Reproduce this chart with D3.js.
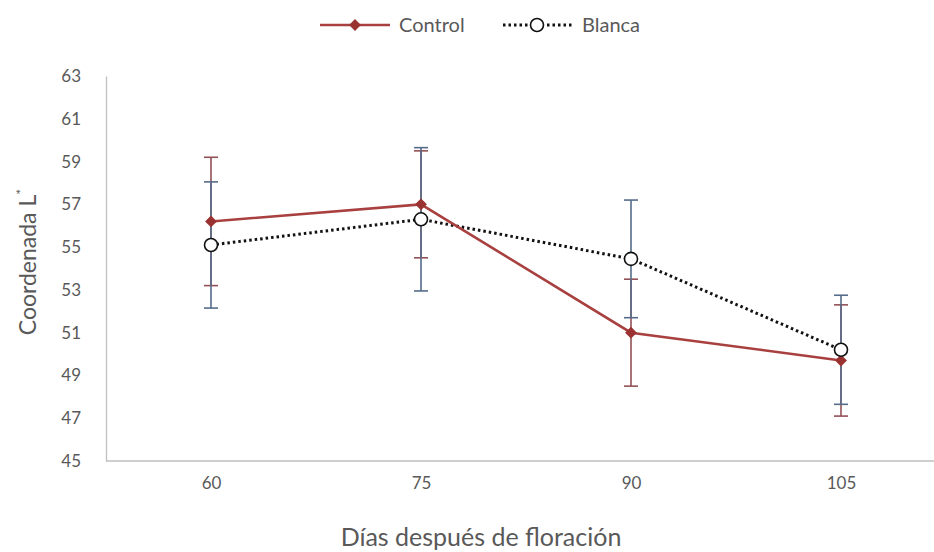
<!DOCTYPE html>
<html>
<head>
<meta charset="utf-8">
<script src="https://cdn.jsdelivr.net/npm/d3@7"></script>
<style>
  html, body { margin: 0; padding: 0; background: #fff; }
  svg { display: block; font-family: Lato, "Open Sans", sans-serif; }
</style>
</head>
<body>
<svg id="chart" width="934" height="552"></svg>
<script>
const categories = ["60", "75", "90", "105"];
const controlValues = [56.2, 57.0, 51.0, 49.7];
const controlErrors = [3.0, 2.5, 2.5, 2.6];
const blancaValues = [55.1, 56.3, 54.45, 50.2];
const blancaErrors = [2.95, 3.35, 2.75, 2.55];
const yTicks = [45, 47, 49, 51, 53, 55, 57, 59, 61, 63];
const seriesNames = ["Control", "Blanca"];

(function () {
const svg = d3.select("#chart");
const plotLeft = 106, plotRight = 946, plotTop = 76, plotBottom = 461;

const x = d3.scalePoint().domain(categories).range([plotLeft, plotRight]).padding(0.5);
const y = d3.scaleLinear().domain([45, 63]).range([plotBottom, plotTop]);

// axes
const yAxis = svg.append("g").attr("transform", `translate(${plotLeft},0)`)
  .call(d3.axisLeft(y).tickValues(yTicks).tickSize(0).tickPadding(25));
yAxis.select(".domain").attr("stroke", "#bfbfbf").attr("stroke-width", 1.3);
yAxis.selectAll("text").attr("fill", "#595959").style("font-size", "17px")
  .style("font-family", "Lato, sans-serif");

const xAxis = svg.append("g").attr("transform", `translate(0,${plotBottom})`)
  .call(d3.axisBottom(x).tickSize(0).tickPadding(16));
xAxis.select(".domain").remove();
xAxis.append("line").attr("x1", plotLeft).attr("x2", 934).attr("y1", 0).attr("y2", 0)
  .attr("stroke", "#bfbfbf").attr("stroke-width", 1.3);
xAxis.selectAll("text").attr("fill", "#595959").style("font-size", "17px")
  .style("font-family", "Lato, sans-serif");

// axis titles
svg.append("text").attr("transform", "translate(36,262) rotate(-90)")
  .attr("text-anchor", "middle").attr("fill", "#595959")
  .style("font-size", "23px")
  .text("Coordenada L")
  .append("tspan").attr("dy", -10).style("font-size", "14px").text("*");

svg.append("text").attr("x", 481).attr("y", 546).attr("text-anchor", "middle")
  .attr("fill", "#595959").style("font-size", "25px")
  .text("Días después de floración");

const controlColor = "#a94040";
const controlErrColor = "#935056";
const blancaErrColor = "#566c8a";

function errorBars(values, errors, color) {
  const g = svg.append("g").attr("stroke", color).attr("stroke-width", 1.6).attr("fill", "none");
  categories.forEach((c, i) => {
    const cx = x(c), y1 = y(values[i] + errors[i]), y2 = y(values[i] - errors[i]);
    g.append("line").attr("x1", cx).attr("x2", cx).attr("y1", y1).attr("y2", y2);
    g.append("line").attr("x1", cx - 7).attr("x2", cx + 7).attr("y1", y1).attr("y2", y1);
    g.append("line").attr("x1", cx - 7).attr("x2", cx + 7).attr("y1", y2).attr("y2", y2);
  });
}
errorBars(controlValues, controlErrors, controlErrColor);
errorBars(blancaValues, blancaErrors, blancaErrColor);

const line = d3.line().x((d, i) => x(categories[i])).y(d => y(d));

svg.append("path").datum(blancaValues).attr("d", line)
  .attr("fill", "none").attr("stroke", "#111").attr("stroke-width", 3)
  .attr("stroke-dasharray", "2.5,3");
svg.append("path").datum(controlValues).attr("d", line)
  .attr("fill", "none").attr("stroke", controlColor).attr("stroke-width", 2.6);

svg.selectAll(".cm").data(controlValues).enter().append("path")
  .attr("d", d3.symbol().type(d3.symbolSquare).size(70))
  .attr("transform", (d, i) => `translate(${x(categories[i])},${y(d)}) rotate(45)`)
  .attr("fill", "#9b3232");

svg.selectAll(".bm").data(blancaValues).enter().append("circle")
  .attr("cx", (d, i) => x(categories[i])).attr("cy", d => y(d)).attr("r", 6.5)
  .attr("fill", "#fff").attr("stroke", "#111").attr("stroke-width", 1.6);

// legend
const lg = svg.append("g");
const ly = 25;
lg.append("line").attr("x1", 320).attr("x2", 390).attr("y1", ly).attr("y2", ly)
  .attr("stroke", controlColor).attr("stroke-width", 2.6);
lg.append("path").attr("d", d3.symbol().type(d3.symbolSquare).size(70))
  .attr("transform", `translate(355,${ly}) rotate(45)`).attr("fill", "#9b3232");
lg.append("text").attr("x", 399).attr("y", ly + 7).attr("fill", "#595959")
  .style("font-size", "20px").text(seriesNames[0]);

lg.append("line").attr("x1", 503).attr("x2", 573).attr("y1", ly).attr("y2", ly)
  .attr("stroke", "#111").attr("stroke-width", 3).attr("stroke-dasharray", "2.5,3");
lg.append("circle").attr("cx", 537).attr("cy", ly).attr("r", 6.5)
  .attr("fill", "#fff").attr("stroke", "#111").attr("stroke-width", 1.6);
lg.append("text").attr("x", 582).attr("y", ly + 7).attr("fill", "#595959")
  .style("font-size", "20px").text(seriesNames[1]);
})();
</script>
</body>
</html>
